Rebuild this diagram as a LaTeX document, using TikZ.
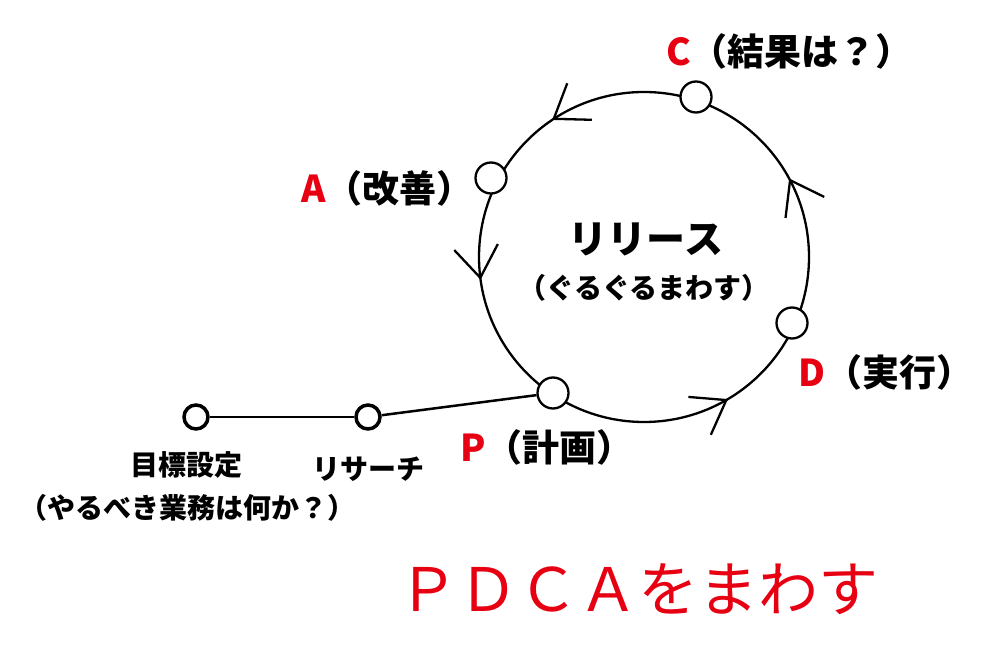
\documentclass[tikz,border=0pt]{standalone}
\usepackage{fontspec}
\setmainfont{Noto Sans CJK JP}
\usetikzlibrary{arrows.meta,decorations.markings}
\definecolor{pdcared}{RGB}{230,0,18}

\begin{document}
\begin{tikzpicture}[x=1pt,y=1pt]
\tikzstyle{every node}+=[inner sep=0pt]
\tikzstyle{stage}=[draw, circle, fill=white, line width=2.3pt, minimum size=31pt]
\tikzstyle{milestone}=[draw, circle, fill=white, line width=3.5pt, minimum size=24pt]
\tikzstyle{tag}=[font=\fontsize{37}{42}\selectfont\bfseries]
\tikzstyle{note}=[font=\fontsize{28}{32}\selectfont\bfseries]
\tikzstyle{turn}=[postaction={decorate}, decoration={markings,
  mark=at position 0.079 with {\arrow{Straight Barb[length=31pt,width=44pt]}},
  mark=at position 0.344 with {\arrow{Straight Barb[length=31pt,width=44pt]}},
  mark=at position 0.522 with {\arrow{Straight Barb[length=31pt,width=44pt]}},
  mark=at position 0.835 with {\arrow{Straight Barb[length=31pt,width=44pt]}}}]
\useasboundingbox (0,0) rectangle (1000,648);
\coordinate (O) at (644,391);
\draw [turn, line width=2.3pt] (O) circle (165pt);
\node [stage] (C) at (696,551) {};
\node [stage] (A) at (491,470) {};
\node [stage] (D) at (792,325) {};
\node [stage] (P) at (553,255) {};
\node [milestone] (goal) at (196,231) {};
\node [milestone] (research) at (368,231) {};
\draw [line width=2pt] (goal) -- (research);
\draw [line width=2.5pt] (research) -- (P);
\node [tag, anchor=base west] (Ctag) at (666,582) {\textcolor{pdcared}{C}（結果は？）};
\node [tag, anchor=base west] (Atag) at (301,445) {\textcolor{pdcared}{A}（改善）};
\node [tag, anchor=base west] (Dtag) at (798,261) {\textcolor{pdcared}{D}（実行）};
\node [tag, anchor=base west] (Ptag) at (460,186) {\textcolor{pdcared}{P}（計画）};
\node [tag, font=\fontsize{39}{44}\selectfont\bfseries] (release) at (646,409) {リリース};
\node [note] (spin) at (644,360) {（ぐるぐるまわす）};
\node [note] (goaltag) at (186,183) {目標設定};
\node [note] (goalsub) at (187,140) {（やるべき業務は何か？）};
\node [note] (researchtag) at (368,179) {リサーチ};
\node [font=\fontsize{60}{66}\selectfont, text=pdcared] (motto) at (638,59) {ＰＤＣＡをまわす};
\end{tikzpicture}
\end{document}
